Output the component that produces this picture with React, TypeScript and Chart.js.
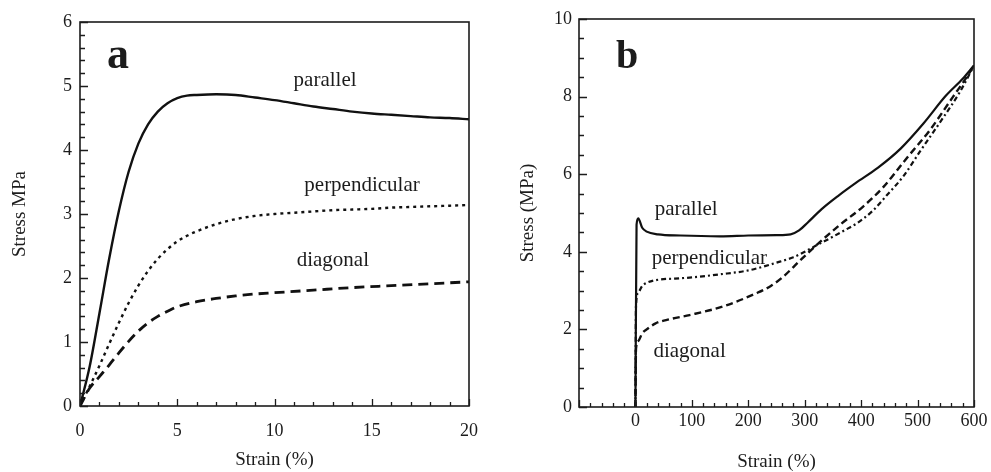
import React, { useEffect, useRef } from "react";
import { Chart, registerables } from "chart.js";

Chart.register(...registerables);

const SERIF = '"Liberation Serif", "Times New Roman", serif';
const INK = "#1c1c1c";

// ---------- Panel a (Strain 0–20 %) ----------
const aParallelX = [0, 0.5, 1, 1.5, 2, 2.5, 3, 3.5, 4, 4.5, 5, 5.5, 6, 7, 8, 9, 10, 11, 12, 13, 14, 15, 16, 17, 18, 19, 20];
const aParallelY = [0, 0.62, 1.45, 2.3, 3.05, 3.66, 4.1, 4.4, 4.6, 4.73, 4.81, 4.85, 4.86, 4.87, 4.86, 4.82, 4.78, 4.73, 4.68, 4.64, 4.6, 4.57, 4.55, 4.53, 4.51, 4.5, 4.48];

const aPerpX = [0, 0.5, 1, 1.5, 2, 2.5, 3, 3.5, 4, 4.5, 5, 5.5, 6, 7, 8, 9, 10, 11, 12, 13, 14, 15, 16, 17, 18, 19, 20];
const aPerpY = [0, 0.31, 0.63, 0.97, 1.3, 1.61, 1.88, 2.11, 2.3, 2.45, 2.57, 2.66, 2.73, 2.84, 2.92, 2.97, 3.0, 3.02, 3.04, 3.06, 3.07, 3.08, 3.1, 3.11, 3.12, 3.13, 3.14];

const aDiagX = [0, 0.5, 1, 1.5, 2, 2.5, 3, 3.5, 4, 4.5, 5, 6, 7, 8, 9, 10, 12, 14, 16, 18, 20];
const aDiagY = [0, 0.28, 0.46, 0.64, 0.83, 1.01, 1.17, 1.3, 1.4, 1.48, 1.55, 1.63, 1.68, 1.72, 1.75, 1.77, 1.81, 1.85, 1.88, 1.91, 1.94];

const aNames = ["parallel", "perpendicular", "diagonal"];
const aNameX = [12.6, 14.5, 13.0];
const aNameY = [5.08, 3.45, 2.28];

// ---------- Panel b (Strain −100–600 %) ----------
const bParallelX = [0, 2, 5, 12, 20, 40, 80, 150, 200, 250, 275, 290, 305, 330, 360, 390, 430, 470, 510, 550, 580, 600];
const bParallelY = [0, 4.7, 4.86, 4.62, 4.52, 4.45, 4.42, 4.4, 4.42, 4.43, 4.45, 4.55, 4.75, 5.1, 5.45, 5.77, 6.17, 6.66, 7.3, 8.02, 8.46, 8.8];

const bPerpX = [0, 1, 5, 12, 20, 40, 70, 100, 150, 200, 250, 280, 300, 320, 345, 370, 392, 420, 445, 475, 505, 545, 575, 600];
const bPerpY = [0, 2.6, 2.95, 3.12, 3.2, 3.28, 3.31, 3.34, 3.42, 3.52, 3.72, 3.86, 4.0, 4.16, 4.35, 4.55, 4.73, 5.05, 5.45, 5.95, 6.6, 7.45, 8.12, 8.8];

const bDiagX = [0, 1, 5, 12, 20, 35, 60, 96, 155, 214, 240, 262, 290, 320, 362, 403, 440, 480, 522, 563, 587, 600];
const bDiagY = [0, 1.5, 1.7, 1.9, 2.0, 2.15, 2.26, 2.37, 2.59, 2.93, 3.12, 3.36, 3.75, 4.16, 4.69, 5.16, 5.68, 6.4, 7.14, 8.0, 8.5, 8.8];

const bNames = ["parallel", "perpendicular", "diagonal"];
const bNameX = [90, 131, 96];
const bNameY = [5.08, 3.82, 1.42];

const pts = (xs: number[], ys: number[]) => xs.map((x, i) => ({ x, y: ys[i] }));

const isMultiple = (v: number, step: number) => Math.abs(v / step - Math.round(v / step)) < 1e-6;

const frameTicks = {
  id: "frameTicks",
  afterDraw(chart: any) {
    const o = chart.options.plugins.frameTicks;
    const { ctx, chartArea: ca } = chart;
    const xs = chart.scales.x;
    const ys = chart.scales.y;
    ctx.save();
    ctx.strokeStyle = INK;
    ctx.lineWidth = 1.6;
    ctx.strokeRect(ca.left, ca.top, ca.right - ca.left, ca.bottom - ca.top);
    ctx.lineWidth = 1.3;
    ctx.beginPath();
    const nx = Math.round((o.xMax - o.xMin) / o.xMinor);
    for (let i = 0; i <= nx; i++) {
      const v = o.xMin + i * o.xMinor;
      const px = Math.round(xs.getPixelForValue(v)) + 0.5;
      const len = isMultiple(v, o.xMajor) ? 7 : 4;
      ctx.moveTo(px, ca.bottom);
      ctx.lineTo(px, ca.bottom - len);
    }
    const ny = Math.round((o.yMax - o.yMin) / o.yMinor);
    for (let i = 0; i <= ny; i++) {
      const v = o.yMin + i * o.yMinor;
      const py = Math.round(ys.getPixelForValue(v)) + 0.5;
      const len = isMultiple(v, o.yMajor) ? 8 : 5;
      ctx.moveTo(ca.left, py);
      ctx.lineTo(ca.left + len, py);
    }
    ctx.stroke();

    ctx.fillStyle = INK;
    ctx.textAlign = "center";
    ctx.textBaseline = "middle";
    ctx.font = `21px ${SERIF}`;
    o.names.forEach((t: string, i: number) => {
      ctx.fillText(t, xs.getPixelForValue(o.nameX[i]), ys.getPixelForValue(o.nameY[i]));
    });
    ctx.font = `bold ${o.letterSize}px ${SERIF}`;
    ctx.fillText(o.letter, o.letterPx, o.letterPy);
    ctx.restore();
  },
};

function makeConfig(p: any): any {
  const ds = (data: any[], dash: number[], width: number) => ({
    data,
    borderColor: "#111",
    borderWidth: width,
    borderDash: dash,
    pointRadius: 0,
    fill: false,
    showLine: true,
    cubicInterpolationMode: "monotone",
  });
  return {
    type: "scatter",
    data: {
      datasets: [
        ds(p.par, [], p.parW),
        ds(p.perp, p.perpDash, p.perpW),
        ds(p.diag, p.diagDash, p.diagW),
      ],
    },
    options: {
      responsive: false,
      animation: false,
      events: [],
      layout: { padding: p.padding },
      plugins: {
        legend: { display: false },
        tooltip: { enabled: false },
        frameTicks: p.ticks,
      },
      scales: {
        x: {
          type: "linear",
          min: p.ticks.xMin,
          max: p.ticks.xMax,
          grid: { display: false, drawTicks: false },
          border: { display: false },
          ticks: {
            stepSize: p.ticks.xMajor,
            autoSkip: false,
            maxRotation: 0,
            color: INK,
            padding: p.xTickPad,
            font: { family: SERIF, size: 18 },
            callback: (v: number) => (v < 0 ? "" : String(v)),
          },
          title: {
            display: true,
            text: "Strain (%)",
            color: INK,
            font: { family: SERIF, size: 19, lineHeight: 1 },
            padding: { top: 0, bottom: 0 },
          },
          afterFit: (s: any) => {
            s.height = p.xHeight;
          },
        },
        y: {
          type: "linear",
          min: p.ticks.yMin,
          max: p.ticks.yMax,
          grid: { display: false, drawTicks: false },
          border: { display: false },
          ticks: {
            stepSize: p.ticks.yMajor,
            color: INK,
            padding: p.yTickPad,
            font: { family: SERIF, size: 18 },
          },
          title: {
            display: true,
            text: p.yTitle,
            color: INK,
            font: { family: SERIF, size: 19, lineHeight: 1 },
            padding: { top: p.yTitlePad, bottom: 0 },
          },
          afterFit: (s: any) => {
            s.width = p.yWidth;
          },
        },
      },
    },
    plugins: [frameTicks],
  };
}

const panelA = {
  par: pts(aParallelX, aParallelY),
  perp: pts(aPerpX, aPerpY),
  diag: pts(aDiagX, aDiagY),
  parW: 2.4,
  perpW: 2.4,
  perpDash: [3, 4],
  diagW: 2.8,
  diagDash: [10, 6],
  padding: { left: 0, top: 22, right: 31, bottom: 2.5 },
  xHeight: 63.5,
  yWidth: 80,
  xTickPad: 14,
  yTickPad: 8,
  yTitlePad: 10.5,
  yTitle: "Stress MPa",
  ticks: {
    xMin: 0, xMax: 20, xMinor: 1, xMajor: 5,
    yMin: 0, yMax: 6, yMinor: 0.2, yMajor: 1,
    names: aNames, nameX: aNameX, nameY: aNameY,
    letter: "a", letterSize: 44, letterPx: 118, letterPy: 57,
  },
};

const panelB = {
  par: pts(bParallelX, bParallelY),
  perp: pts(bPerpX, bPerpY),
  diag: pts(bDiagX, bDiagY),
  parW: 2.2,
  perpW: 2.2,
  perpDash: [5, 3, 2, 3],
  diagW: 2.4,
  diagDash: [7, 4],
  padding: { left: 0, top: 19, right: 17, bottom: 0 },
  xHeight: 65,
  yWidth: 79,
  xTickPad: 3,
  yTickPad: 7,
  yTitlePad: 18.5,
  yTitle: "Stress (MPa)",
  ticks: {
    xMin: -100, xMax: 600, xMinor: 20, xMajor: 100,
    yMin: 0, yMax: 10, yMinor: 0.5, yMajor: 2,
    names: bNames, nameX: bNameX, nameY: bNameY,
    letter: "b", letterSize: 40, letterPx: 127, letterPy: 58,
  },
};

function Panel({ spec, left, width }: { spec: any; left: number; width: number }) {
  const ref = useRef<HTMLCanvasElement>(null);
  useEffect(() => {
    const chart = new Chart(ref.current as HTMLCanvasElement, makeConfig(spec));
    return () => chart.destroy();
  }, []);
  return (
    <canvas
      ref={ref}
      width={width}
      height={472}
      style={{ position: "absolute", left, top: 0, width, height: 472 }}
    />
  );
}

export default function App() {
  return (
    <div style={{ position: "fixed", left: 0, top: 0, width: 991, height: 472, background: "#fff" }}>
      <Panel spec={panelA} left={0} width={500} />
      <Panel spec={panelB} left={500} width={491} />
    </div>
  );
}
